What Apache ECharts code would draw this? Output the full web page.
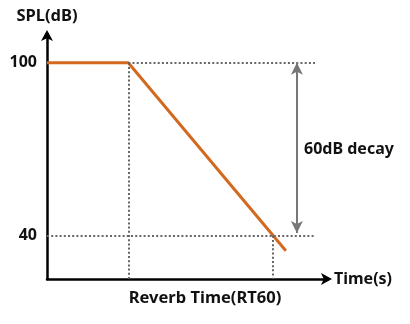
<!DOCTYPE html>
<html>
<head>
<meta charset="utf-8">
<script src="https://cdn.jsdelivr.net/npm/echarts@6/dist/echarts.min.js"></script>
<style>html,body{margin:0;padding:0;background:#fff}#c{width:410px;height:324px}</style>
</head>
<body>
<div id="c"></div>
<script>
// Data
const timeValues = [0, 8.1, 23.8];
const splValues = [100, 100, 34.8];
const yTickLabels = [40, 100];
const startLevel = 100;
const endLevel = 40;
const decayStartTime = 8.1;
const rt60Time = 22.5;
const guideEndTime = 26.7;
const decayArrowTime = 24.9;

const font = '"Noto Sans", sans-serif';
const fs = 16;
const chart = echarts.init(document.getElementById('c'));
const guide = {color: '#666', type: [2, 2.2], width: 2};

chart.setOption({
  animation: false,
  title: [
    {text: 'Reverb Time(RT60)', left: 200, top: 285, textAlign: 'center',
     textStyle: {fontFamily: font, fontWeight: 'bold', fontSize: 16.5, color: '#111'}},
    {text: '60dB decay', left: 299, top: 136,
     textStyle: {fontFamily: font, fontWeight: 'bold', fontSize: fs, color: '#111'}}
  ],
  grid: {left: 47, right: 82, top: 34, bottom: 45},
  xAxis: {
    type: 'value', min: 0, max: 28,
    name: 'Time(s)', nameLocation: 'end', nameGap: 6,
    nameTextStyle: {fontFamily: font, fontWeight: 'bold', fontSize: fs, color: '#111'},
    axisLine: {onZero: false, symbol: ['none', 'arrow'], symbolSize: [9, 11], symbolOffset: [0, 4],
               lineStyle: {color: '#000', width: 2.5}},
    axisTick: {show: false}, axisLabel: {show: false}, splitLine: {show: false}
  },
  yAxis: {
    type: 'value', min: 25, max: 110,
    name: 'SPL(dB)', nameLocation: 'end', nameGap: 9,
    nameTextStyle: {fontFamily: font, fontWeight: 'bold', fontSize: 16.5, color: '#111', align: 'center'},
    axisLine: {onZero: false, symbol: ['none', 'arrow'], symbolSize: [9, 11], symbolOffset: [0, 4],
               lineStyle: {color: '#000', width: 2.5}},
    axisTick: {show: false},
    axisLabel: {customValues: yTickLabels, margin: 10,
                fontFamily: font, fontWeight: 'bold', fontSize: fs, color: '#111'},
    splitLine: {show: false}
  },
  series: [{
    type: 'line',
    data: timeValues.map((t, i) => [t, splValues[i]]),
    symbol: 'none',
    lineStyle: {color: '#D2691E', width: 3},
    z: 3,
    markLine: {
      silent: true, symbol: ['none', 'none'],
      label: {show: false},
      lineStyle: guide,
      data: [
        [{coord: [decayStartTime, startLevel]}, {coord: [guideEndTime, startLevel]}],
        [{coord: [0, endLevel]}, {coord: [guideEndTime, endLevel]}],
        [{coord: [decayStartTime, startLevel]}, {coord: [decayStartTime, 25]}],
        [{coord: [rt60Time, endLevel]}, {coord: [rt60Time, 25]}],
        [{coord: [decayArrowTime, startLevel], symbol: 'arrow', symbolSize: [9, 12],
          lineStyle: {color: '#777', type: 'solid', width: 2}},
         {coord: [decayArrowTime, endLevel + 1], symbol: 'arrow', symbolSize: [9, 12]}]
      ]
    }
  }]
});
</script>
</body>
</html>
